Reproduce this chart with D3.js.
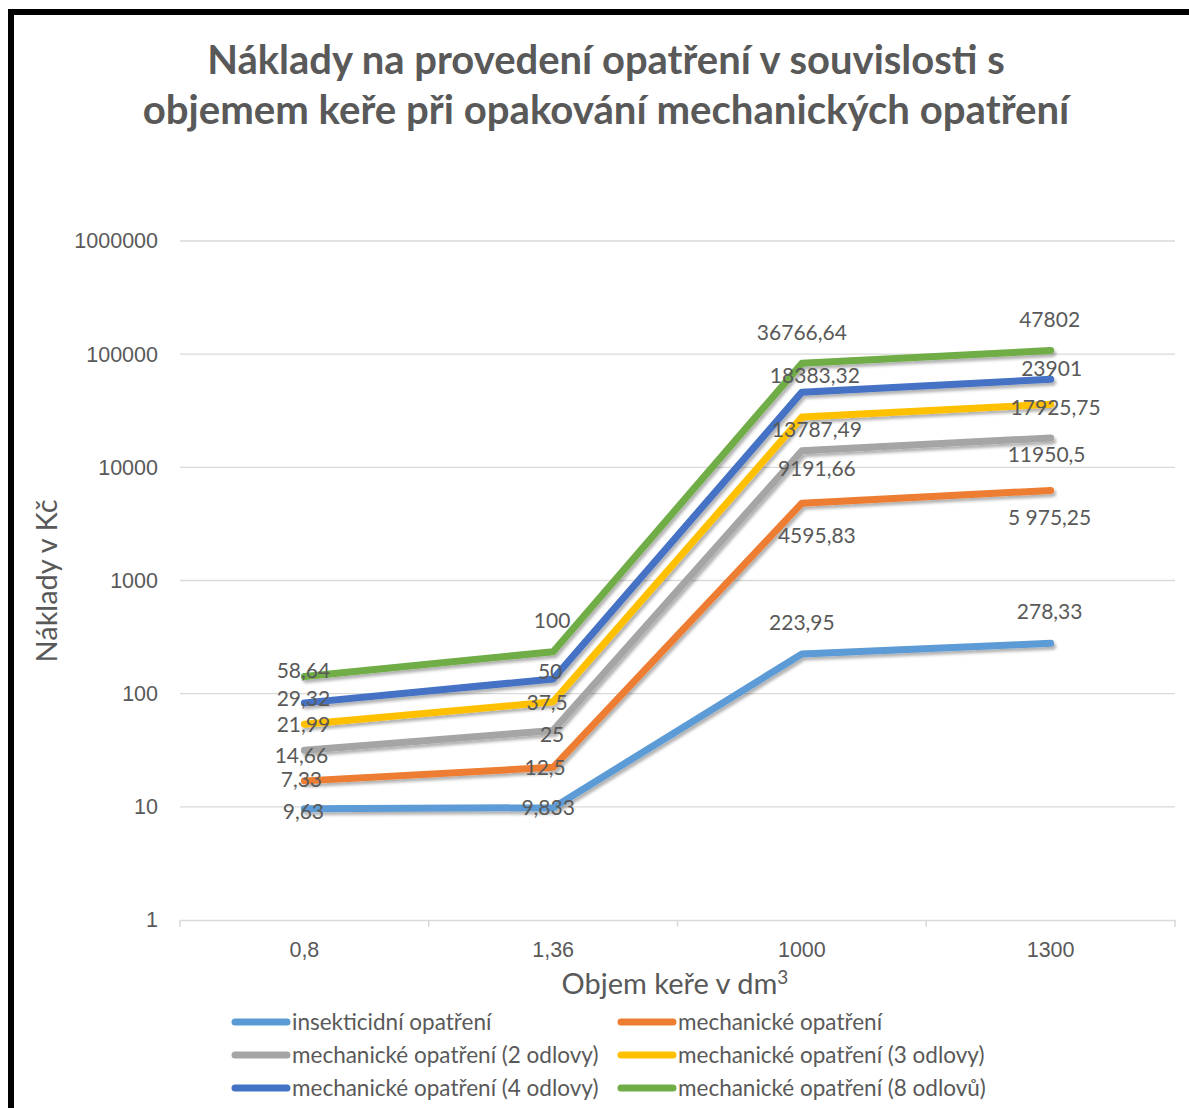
<!DOCTYPE html>
<html>
<head>
<meta charset="utf-8">
<script src="https://cdn.jsdelivr.net/npm/d3@7"></script>
<style>
  body { margin: 0; background: #fff; }
  svg { display: block; font-family: Lato, "Open Sans", sans-serif; }
  .tick-label, .data-label, .legend-label { fill: #595959; }
</style>
</head>
<body>
<div id="chart"></div>
<script>
// ---- data ----
var categories = ['0,8', '1,36', '1000', '1300'];
var seriesNames = [
  'insekticidní opatření',
  'mechanické opatření',
  'mechanické opatření (2 odlovy)',
  'mechanické opatření (3 odlovy)',
  'mechanické opatření (4 odlovy)',
  'mechanické opatření (8 odlovů)'
];
var insekticidni = [9.63, 9.833, 223.95, 278.33];
var mechanicke   = [7.33, 12.5, 4595.83, 5975.25];
var mech2odlovy  = [14.66, 25, 9191.66, 11950.5];
var mech3odlovy  = [21.99, 37.5, 13787.49, 17925.75];
var mech4odlovy  = [29.32, 50, 18383.32, 23901];
var mech8odlovu  = [58.64, 100, 36766.64, 47802];
var yTicks = [1, 10, 100, 1000, 10000, 100000, 1000000];

// ---- layout / style ----
var width = 1189, height = 1108;
var plot = {left: 180, right: 1175, top: 241, bottom: 920};
var colors = ['#5B9BD5', '#ED7D31', '#A5A5A5', '#FFC000', '#4472C4', '#70AD47'];
// data label nudges [dx, dy] per series / category (hand placed in the original)
var labelNudge = [
  [[-1, 3], [-5, 0], [0, -31], [-1, -32]],
  [[-3, -1], [-8, 0], [15, 32], [-1, 27]],
  [[-3, 5], [-1, 4], [15, 18], [-4, 17]],
  [[-1, 0], [-6, 1], [15, 13], [5, 3]],
  [[-1, -4], [-3, -7], [13, -16], [1, -11]],
  [[-1, -6], [-1, -31], [0, -31], [-1, -31]]
];
var labelOverride = {'1-3': '5 975,25'};

var seriesValues = [insekticidni, mechanicke, mech2odlovy, mech3odlovy, mech4odlovy, mech8odlovu];

// stacked line chart (as in the excel original)
var table = categories.map(function(c, i) {
  var row = {cat: c};
  seriesNames.forEach(function(s, j) { row[s] = seriesValues[j][i]; });
  return row;
});
var stacked = d3.stack().keys(seriesNames)(table);

var svg = d3.select('#chart').append('svg')
  .attr('width', width)
  .attr('height', height);

var defs = svg.append('defs');
var f = defs.append('filter').attr('id', 'shadow')
  .attr('x', '-10%').attr('y', '-10%').attr('width', '120%').attr('height', '130%');
f.append('feDropShadow')
  .attr('dx', 2).attr('dy', 3)
  .attr('stdDeviation', 1.8)
  .attr('flood-color', '#000')
  .attr('flood-opacity', 0.3);

// frame
svg.append('rect')
  .attr('x', 11).attr('y', 12)
  .attr('width', 1200).attr('height', 1200)
  .attr('fill', 'none')
  .attr('stroke', '#000')
  .attr('stroke-width', 6);

// title
var titleLines = ['Náklady na provedení opatření v souvislosti s',
                  'objemem keře při opakování mechanických opatření'];
var titleWidths = [798, 927];
var title = svg.append('g');
titleLines.forEach(function(t, i) {
  var txt = title.append('text')
    .attr('x', 606)
    .attr('y', 74 + i * 50)
    .attr('text-anchor', 'middle')
    .attr('font-weight', 'bold')
    .attr('font-size', 36)
    .attr('fill', '#595959')
    .text(t);
  var w = txt.node().getComputedTextLength();
  txt.attr('font-size', 36 * titleWidths[i] / w);
});

var x = d3.scaleBand().domain(categories).range([plot.left, plot.right]).padding(0);
var y = d3.scaleLog().domain([1, 1000000]).range([plot.bottom, plot.top]);
var cx = function(c) { return x(c) + x.bandwidth() / 2; };

// gridlines
svg.append('g').selectAll('line')
  .data(yTicks.slice(1))
  .enter().append('line')
  .attr('x1', plot.left).attr('x2', plot.right)
  .attr('y1', function(d) { return y(d); })
  .attr('y2', function(d) { return y(d); })
  .attr('stroke', '#D9D9D9')
  .attr('stroke-width', 1.3);

// y axis labels
var yAxis = d3.axisLeft(y).tickValues(yTicks).tickFormat(d3.format('d')).tickSize(0).tickPadding(22);
var gy = svg.append('g').attr('transform', 'translate(' + plot.left + ',0)').call(yAxis);
gy.select('.domain').remove();
gy.selectAll('text').attr('class', 'tick-label').attr('font-size', 21.5).attr('font-family', null).attr('fill', '#595959');

// x axis
var xAxis = d3.axisBottom(x).tickSize(0).tickPadding(22);
var gx = svg.append('g').attr('transform', 'translate(0,' + plot.bottom + ')').call(xAxis);
gx.select('.domain').attr('stroke', '#D9D9D9').attr('stroke-width', 1.5);
gx.selectAll('text').attr('font-size', 21.5).attr('font-family', null).attr('fill', '#595959');
var bounds = categories.map(function(c) { return x(c); }).concat([plot.right]);
gx.selectAll('.sep').data(bounds).enter().append('line')
  .attr('class', 'sep')
  .attr('x1', function(d) { return d; }).attr('x2', function(d) { return d; })
  .attr('y1', 0).attr('y2', 7)
  .attr('stroke', '#D9D9D9').attr('stroke-width', 1.5);

// axis titles
var xt = svg.append('text')
  .attr('x', 675).attr('y', 994)
  .attr('text-anchor', 'middle')
  .attr('font-size', 29)
  .attr('fill', '#595959')
  .text('Objem keře v dm');
xt.append('tspan').attr('dy', -10).attr('font-size', 19).text('3');

svg.append('text')
  .attr('transform', 'translate(57,581) rotate(-90)')
  .attr('text-anchor', 'middle')
  .attr('font-size', 29)
  .attr('fill', '#595959')
  .text('Náklady v Kč');

// lines
var line = d3.line()
  .x(function(d) { return cx(d.data.cat); })
  .y(function(d) { return y(d[1]); });

svg.append('g').selectAll('path')
  .data(stacked)
  .enter().append('path')
  .attr('d', line)
  .attr('fill', 'none')
  .attr('stroke', function(d, i) { return colors[i]; })
  .attr('stroke-width', 7)
  .attr('stroke-linecap', 'round')
  .attr('stroke-linejoin', 'round')
  .attr('filter', 'url(#shadow)');

// data labels (show the series' own value, placed at the stacked point)
var labels = svg.append('g');
stacked.forEach(function(s, i) {
  s.forEach(function(d, j) {
    var n = labelNudge[i][j];
    var txt = labelOverride[i + '-' + j] || String(seriesValues[i][j]).replace('.', ',');
    labels.append('text')
      .attr('class', 'data-label')
      .attr('x', cx(d.data.cat) + n[0])
      .attr('y', y(d[1]) + n[1])
      .attr('dy', '0.35em')
      .attr('text-anchor', 'middle')
      .attr('font-size', 21)
      .text(txt);
  });
});

// legend
var legend = svg.append('g');
seriesNames.forEach(function(s, i) {
  var col = i % 2, row = Math.floor(i / 2);
  var lx = col === 0 ? 232 : 618;
  var ly = 1022 + row * 33;
  legend.append('line')
    .attr('x1', lx + 3).attr('x2', lx + 55)
    .attr('y1', ly).attr('y2', ly)
    .attr('stroke', colors[i])
    .attr('stroke-width', 7)
    .attr('stroke-linecap', 'round');
  legend.append('text')
    .attr('class', 'legend-label')
    .attr('x', lx + 60).attr('y', ly)
    .attr('dy', '0.35em')
    .attr('font-size', 22.5)
    .text(s);
});
</script>
</body>
</html>
